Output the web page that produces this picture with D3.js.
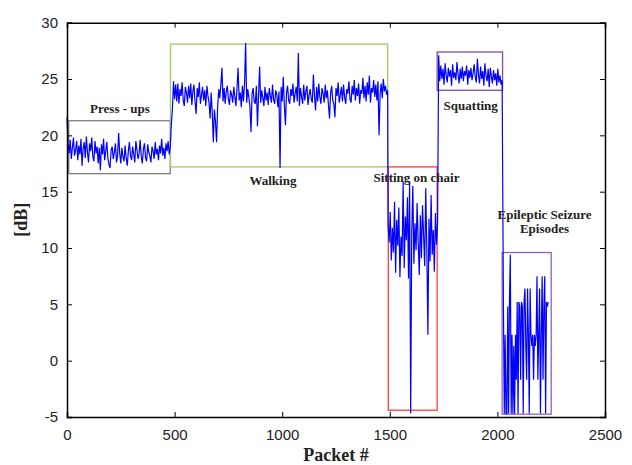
<!doctype html>
<html>
<head>
  <meta charset="utf-8">
  <script src="https://cdnjs.cloudflare.com/ajax/libs/d3/7.8.5/d3.min.js"></script>
  <style>
    body { margin: 0; background: #fff; }
    svg { display: block; }
    .tick text { font-family: "Liberation Sans", Arial, sans-serif; font-size: 15px; fill: #222; }
    .note { font-family: "Liberation Serif", "Times New Roman", serif; font-weight: bold; font-size: 13px; fill: #222; }
    .axis-label { font-family: "Liberation Serif", "Times New Roman", serif; font-weight: bold; font-size: 18px; fill: #222; }
  </style>
</head>
<body>
<svg id="chart" width="632" height="465"></svg>
<script>
  // readings per activity, [dB]; each segment has its first packet and packet step
  var pressUps = [
    21.6, 19.2, 18.4, 19.6, 17.9, 18.9, 19.8, 18.2, 18.7, 19.5,
    17.8, 19.1, 18.3, 19.7, 17.3, 18.8, 19.4, 18.0, 19.9, 18.5,
    17.6, 19.3, 18.6, 19.8, 18.1, 17.7, 19.5, 18.4, 19.0, 17.5,
    18.9, 16.9, 19.2, 18.3, 19.7, 17.8, 18.6, 19.4, 18.0, 17.4,
    17.1, 18.7, 19.0, 17.9, 18.5, 19.3, 17.6, 18.2, 20.2, 18.4,
    17.5, 18.9, 18.1, 17.7, 19.1, 18.0, 17.3, 18.6, 19.4, 18.2,
    17.8, 19.0, 18.3, 17.6, 19.5, 18.7, 17.9, 18.4, 19.6, 18.1,
    17.5, 18.8, 19.3, 18.0, 17.7, 19.2, 18.5, 18.2, 17.6, 19.0,
    18.6, 17.9, 19.4, 18.3, 18.8, 17.8, 19.1, 18.4, 19.7, 18.2,
    18.9, 17.9, 19.3, 18.6, 19.5, 18.3, 19.0
  ];
  var walking = [
    21.0, 22.4, 24.8, 23.2, 24.5, 23.0, 24.6, 22.8, 24.1, 23.5,
    24.7, 23.1, 22.6, 24.3, 23.8, 22.9, 24.4, 23.3, 24.6, 22.7,
    23.9, 24.5, 23.0, 21.9, 24.2, 23.4, 24.7, 22.8, 23.6, 24.3,
    23.1, 24.0, 22.6, 24.4, 23.5, 22.9, 21.5, 23.8, 22.0, 19.4,
    22.3, 21.2, 19.4, 22.5, 24.1, 23.3, 24.5, 26.0, 23.0, 24.2,
    22.8, 23.9, 24.4, 23.2, 22.7, 24.0, 23.6, 22.9, 24.3, 23.4,
    22.6, 24.2, 26.0, 23.1, 23.8, 22.5, 24.4, 23.0, 24.6, 28.2,
    22.9, 24.1, 23.4, 22.6, 20.3, 23.7, 24.2, 23.0, 22.8, 24.4,
    20.8, 23.5, 26.1, 22.9, 24.0, 23.3, 22.6, 24.3, 23.1, 23.8,
    22.7, 24.2, 23.5, 22.9, 24.5, 23.2, 22.8, 24.0, 23.6, 22.5,
    23.9, 17.1, 24.3, 23.0, 25.2, 22.7, 20.9, 23.8, 24.4, 23.1,
    22.8, 24.1, 23.5, 24.6, 22.9, 23.7, 24.3, 23.0, 27.3, 22.6,
    24.2, 23.4, 22.8, 24.5, 23.1, 23.9, 24.4, 22.7, 23.6, 24.1,
    23.2, 22.9, 25.4, 23.5, 22.2, 24.3, 23.0, 24.6, 23.4, 22.8,
    24.2, 23.7, 22.9, 24.5, 23.3, 24.0, 22.7, 21.5, 23.8, 24.4,
    23.1, 22.8, 21.6, 24.2, 23.5, 24.7, 22.9, 23.6, 24.3, 23.0,
    24.5, 23.4, 22.8, 24.1, 23.7, 24.8, 23.2, 22.9, 24.4, 23.6,
    24.9, 23.1, 24.2, 23.5, 24.6, 22.8, 24.0, 23.7, 25.1, 23.3,
    24.4, 23.0, 24.7, 23.6, 25.3, 22.9, 24.2, 23.8, 24.9, 23.4,
    24.5, 23.1, 24.8, 20.0, 23.7, 24.6, 23.3, 25.0, 23.9, 24.4,
    23.6, 24.0
  ];
  var sitting = [
    12.0, 10.5, 13.2, 8.9, 11.8, 9.6, 14.1, 7.8, 12.5, 10.2,
    13.6, 7.4, 11.0, 9.3, 15.9, 8.2, 12.8, 10.7, 14.5, 7.3,
    15.9, -4.7, 11.4, 15.5, 8.6, 12.2, 9.8, 14.0, 10.4, 7.6,
    12.9, 9.1, 13.8, 11.2, 8.4, 15.3, 10.0, 2.3, 12.6, 8.8,
    14.7, 9.4, 11.6, 7.9, 13.1, 10.3, 12.2
  ];
  var squatting = [
    27.1, 24.8, 26.2, 25.0, 25.9, 24.5, 26.4, 25.3, 24.7, 26.0,
    25.2, 25.8, 24.4, 26.3, 25.1, 25.6, 24.9, 26.5, 25.4, 24.6,
    25.9, 25.0, 26.1, 24.8, 25.7, 25.3, 26.2, 24.5, 25.8, 25.1,
    26.0, 24.9, 25.5, 26.3, 25.2, 24.7, 26.8, 25.4, 24.6, 26.1,
    25.0, 25.7, 24.4, 26.4, 25.3, 24.8, 25.9, 24.3, 26.0, 25.2,
    24.6, 25.8, 24.9, 25.5, 24.4, 25.9, 24.7, 25.3, 24.5, 24.9
  ];
  var seizure = [
    4.8, -4.7, 2.3, -4.7, -4.7, 4.8, -4.7, 5.2, 9.4, -4.7,
    2.3, -4.7, 1.3, -4.7, 2.3, -1.7, 5.2, -4.7, 5.2, 4.8,
    -1.7, 5.2, 4.8, -4.7, 5.2, 6.4, 1.3, -1.7, 6.4, 2.3,
    -4.7, 6.4, 2.3, 1.3, 2.3, -1.7, 2.3, 1.3, 2.3, 7.5,
    -1.7, 2.3, 6.4, -4.7, 2.3, 7.5, -1.7, 4.8, 7.5, -4.7,
    5.2, 4.8, 5.2
  ];
  var segments = [
    {values: pressUps, start: 0, step: 5},
    {values: walking, start: 485, step: 5},
    {values: sitting, start: 1492, step: 5},
    {values: squatting, start: 1727, step: 5},
    {values: seizure, start: 2028, step: 4}
  ];

  // activity boxes in data units
  var boxes = [
    {name: "press", x0: 8, x1: 480, y0: 16.6, y1: 21.3},
    {name: "walk", x0: 481, x1: 1490, y0: 17.2, y1: 28.1},
    {name: "sit", x0: 1493, x1: 1720, y0: -4.4, y1: 17.2},
    {name: "squat", x0: 1720, x1: 2024, y0: 24.0, y1: 27.4},
    {name: "seizure", x0: 2022, x1: 2250, y0: -4.75, y1: 9.6}
  ];
  var notes = [
    {text: "Press - ups", x: 246, y: 22.0},
    {text: "Walking", x: 957, y: 15.6},
    {text: "Sitting on chair", x: 1624, y: 15.9},
    {text: "Squatting", x: 1876, y: 22.25},
    {text: "Epileptic Seizure", x: 2219, y: 12.6},
    {text: "Episodes", x: 2219, y: 11.3}
  ];
  var xTicks = [0, 500, 1000, 1500, 2000, 2500];
  var yTicks = [-5, 0, 5, 10, 15, 20, 25, 30];

  var boxColor = {press: "#808080", walk: "#9ccc5e", sit: "#ff3b3b", squat: "#7f4aa8", seizure: "#8f60c0"};

  var svg = d3.select("#chart");
  var plotLeft = 67, plotRight = 605, plotTop = 22.7, plotBottom = 417;

  var x = d3.scaleLinear().domain([0, 2500]).range([plotLeft, plotRight]);
  var y = d3.scaleLinear().domain([-5, 30]).range([plotBottom, plotTop]);

  var points = [];
  segments.forEach(function(s) {
    s.values.forEach(function(v, i) {
      points.push([s.start + i * s.step, v]);
    });
  });

  // boxes
  svg.append("g").selectAll("rect")
    .data(boxes)
    .enter().append("rect")
    .attr("x", function(d) { return x(d.x0); })
    .attr("y", function(d) { return y(d.y1); })
    .attr("width", function(d) { return x(d.x1) - x(d.x0); })
    .attr("height", function(d) { return y(d.y0) - y(d.y1); })
    .attr("fill", "none")
    .attr("stroke", function(d) { return boxColor[d.name]; })
    .attr("stroke-width", 1.3);

  // signal
  svg.append("path")
    .datum(points)
    .attr("fill", "none")
    .attr("stroke", "#0000ff")
    .attr("stroke-width", 1.2)
    .attr("d", d3.line().x(function(d) { return x(d[0]); }).y(function(d) { return y(d[1]); }));

  // axes, ticks inside like matlab; plain hyphen for negatives
  var plain = function(d) { return String(d); };
  var gx = svg.append("g").attr("transform", "translate(0," + plotBottom + ")")
    .call(d3.axisBottom(x).tickValues(xTicks).tickSize(-5).tickPadding(12).tickFormat(plain));
  var gxt = svg.append("g").attr("transform", "translate(0," + plotTop + ")")
    .call(d3.axisTop(x).tickValues(xTicks).tickSize(-5).tickFormat(""));
  var gy = svg.append("g").attr("transform", "translate(" + plotLeft + ",0)")
    .call(d3.axisLeft(y).tickValues(yTicks).tickSize(-5).tickPadding(9).tickFormat(plain));
  var gyr = svg.append("g").attr("transform", "translate(" + plotRight + ",0)")
    .call(d3.axisRight(y).tickValues(yTicks).tickSize(-5).tickFormat(""));

  [gx, gxt, gy, gyr].forEach(function(g) {
    g.select(".domain").attr("stroke", "#000").attr("stroke-width", 1.5);
    g.selectAll(".tick line").attr("stroke", "#000").attr("stroke-width", 1);
  });
  gx.selectAll(".tick text").attr("fill", "#222");
  gy.selectAll(".tick text").attr("fill", "#222");

  // notes
  svg.append("g").selectAll("text")
    .data(notes)
    .enter().append("text")
    .attr("class", "note")
    .attr("x", function(d) { return x(d.x); })
    .attr("y", function(d) { return y(d.y); })
    .attr("text-anchor", "middle")
    .text(function(d) { return d.text; });

  svg.append("text")
    .attr("class", "axis-label")
    .attr("x", (plotLeft + plotRight) / 2)
    .attr("y", 461)
    .attr("text-anchor", "middle")
    .text("Packet #");

  svg.append("text")
    .attr("class", "axis-label")
    .attr("transform", "translate(27," + (plotTop + plotBottom) / 2 + ") rotate(-90)")
    .attr("text-anchor", "middle")
    .text("[dB]");
</script>
</body>
</html>
